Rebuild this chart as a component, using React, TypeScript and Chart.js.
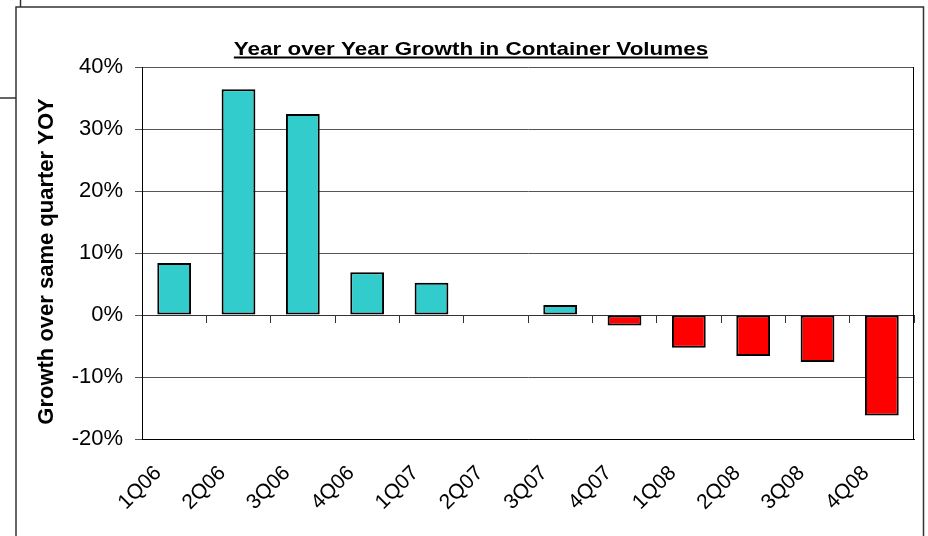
import { useEffect, useRef } from 'react';
import { Chart, registerables } from 'chart.js';

Chart.register(...registerables);

// Quarterly year-over-year growth in container volumes, in percent
const quarters = ['1Q06', '2Q06', '3Q06', '4Q06', '1Q07', '2Q07', '3Q07', '4Q07', '1Q08', '2Q08', '3Q08', '4Q08'];
const growthPct = [8.4, 36.4, 32.4, 6.9, 5.2, 0, 1.6, -1.7, -5.3, -6.6, -7.6, -16.2];

// Value axis range and step, in percent
const yMin = -20;
const yMax = 40;
const yStep = 10;

const chartTitle = 'Year over Year Growth in Container Volumes';
const yAxisTitle = 'Growth over same quarter YOY';

const positiveColor = '#33CCCC';
const negativeColor = '#FF0000';
const FONT = '"Liberation Sans", Arial, Helvetica, sans-serif';

// Page frame, plot border on the right, and the two titles
const decorPlugin = {
  id: 'decor',
  beforeDraw(chart: Chart) {
    const { ctx, width, height } = chart;
    ctx.save();
    ctx.fillStyle = '#ffffff';
    ctx.fillRect(0, 0, width, height);
    ctx.strokeStyle = '#333333';
    ctx.lineWidth = 1.5;
    ctx.beginPath();
    ctx.moveTo(16, height + 2);
    ctx.lineTo(16, 7);
    ctx.lineTo(923.5, 7);
    ctx.lineTo(923.5, height + 2);
    ctx.moveTo(20.5, 0);
    ctx.lineTo(20.5, 7);
    ctx.moveTo(0, 98);
    ctx.lineTo(16, 98);
    ctx.stroke();
    ctx.restore();
  },
  afterDraw(chart: Chart) {
    const { ctx, chartArea } = chart;
    ctx.save();
    // right edge of the plot area
    ctx.strokeStyle = '#000000';
    ctx.lineWidth = 1;
    ctx.beginPath();
    ctx.moveTo(Math.round(chartArea.right) - 0.5, chartArea.top);
    ctx.lineTo(Math.round(chartArea.right) - 0.5, chartArea.bottom);
    ctx.stroke();

    // underlined chart title
    ctx.fillStyle = '#000000';
    ctx.font = `bold 19px ${FONT}`;
    ctx.textAlign = 'center';
    ctx.textBaseline = 'alphabetic';
    ctx.save();
    ctx.translate(471, 55);
    ctx.scale(1.18, 1);
    ctx.fillText(chartTitle, 0, 0);
    const w = ctx.measureText(chartTitle).width;
    ctx.fillRect(-w / 2, 1.5, w, 2);
    ctx.restore();

    // vertical axis title
    ctx.font = `bold 22px ${FONT}`;
    ctx.translate(52.5, 261.5);
    ctx.rotate(-Math.PI / 2);
    ctx.fillText(yAxisTitle, 0, 0);
    ctx.restore();
  },
};

export default function App() {
  const canvasRef = useRef<HTMLCanvasElement>(null);

  useEffect(() => {
    const canvas = canvasRef.current;
    if (!canvas) return;
    const chart = new Chart(canvas, {
      type: 'bar',
      data: {
        labels: quarters,
        datasets: [
          {
            data: growthPct,
            backgroundColor: growthPct.map((v) => (v >= 0 ? positiveColor : negativeColor)),
            borderColor: '#000000',
            borderWidth: 2,
            borderSkipped: false,
            categoryPercentage: 1,
            barPercentage: 0.525,
            xAxisID: 'x',
            yAxisID: 'y',
          },
        ],
      },
      options: {
        responsive: false,
        animation: false,
        devicePixelRatio: 1,
        layout: { padding: { top: 67, right: 14, bottom: 0, left: 0 } },
        plugins: {
          legend: { display: false },
          tooltip: { enabled: false },
          title: { display: false },
        },
        scales: {
          x: {
            type: 'category',
            offset: true,
            grid: { display: false },
            border: { display: true, color: '#000000', width: 1 },
            ticks: {
              autoSkip: false,
              minRotation: 45,
              maxRotation: 45,
              padding: 14,
              labelOffset: -16,
              color: '#000000',
              font: { family: FONT, size: 21 },
            },
            afterFit: (scale: any) => {
              scale.height = 97;
            },
          },
          xZero: {
            type: 'category',
            position: { y: 0 },
            offset: true,
            grid: {
              display: true,
              offset: true,
              drawOnChartArea: false,
              drawTicks: true,
              tickLength: 7,
              color: '#333333',
            },
            border: { display: true, color: '#333333', width: 1 },
            ticks: { display: false },
          },
          y: {
            type: 'linear',
            min: yMin,
            max: yMax,
            grid: {
              color: '#555555',
              lineWidth: 1,
              drawTicks: true,
              tickLength: 7,
              tickColor: '#555555',
            },
            border: { display: true, color: '#000000', width: 1 },
            ticks: {
              stepSize: yStep,
              padding: 12,
              color: '#000000',
              font: { family: FONT, size: 22 },
              callback: (v: any) => `${v}%`,
            },
            afterFit: (scale: any) => {
              scale.width = 142;
            },
          },
        },
      },
      plugins: [decorPlugin],
    });
    return () => chart.destroy();
  }, []);

  return (
    <div style={{ position: 'fixed', left: 0, top: 0, width: 928, height: 536, background: '#ffffff' }}>
      <canvas ref={canvasRef} width={928} height={536} style={{ display: 'block' }} />
    </div>
  );
}
